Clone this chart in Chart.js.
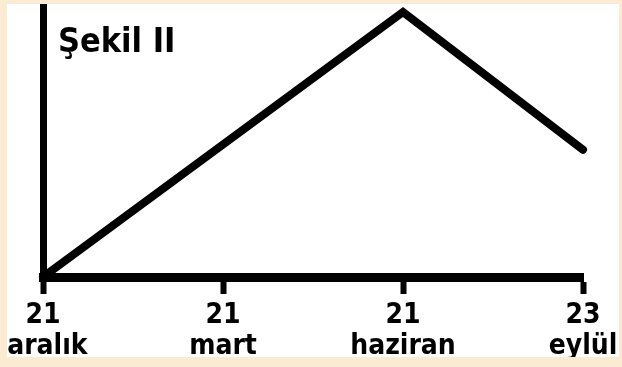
<!DOCTYPE html>
<html lang="tr">
<head>
<meta charset="utf-8">
<title>Şekil II</title>
<script src="https://cdn.jsdelivr.net/npm/chart.js@4.4.1/dist/chart.umd.min.js"></script>
<style>
  html, body { margin: 0; padding: 0; }
  body { width: 622px; height: 367px; background: #fbebd2; position: relative; overflow: hidden; }
  #panel { position: absolute; left: 7px; top: 4px; width: 612px; height: 353px; background: #fff; overflow: hidden; }
  #chart { display: block; }
</style>
</head>
<body>
<div id="panel">
  <canvas id="chart" width="612" height="353"></canvas>
</div>
<script>
// tarih etiketleri (gün / ay) ve güneşin öğle yüksekliği (göreli)
// (ilk ay adındaki boşluk, etiketin panel kenarına taşmasını engeller)
const dates = [['21', '\u00a0aralık'], ['21', 'mart'], ['21', 'haziran'], ['23', 'eylül']];
const sunHeight = [0, 50, 100, 48];
const titleText = 'Şekil II';

const fontFamily = "'DejaVu Sans Condensed', 'DejaVu Sans', sans-serif";

// figure caption in the upper-left corner of the plot
const captionPlugin = {
    id: 'caption',
    afterDraw(chart) {
        const { ctx, chartArea } = chart;
        ctx.save();
        ctx.fillStyle = '#000';
        ctx.font = `bold 34px ${fontFamily}`;
        ctx.textAlign = 'left';
        ctx.textBaseline = 'alphabetic';
        ctx.fillText(titleText, chartArea.left + 15, chartArea.top + 48);
        ctx.restore();
    }
};

new Chart(document.getElementById('chart'), {
    type: 'line',
    data: {
        labels: dates,
        datasets: [{
            data: sunHeight,
            borderColor: '#000',
            borderWidth: 8,
            borderCapStyle: 'round',
            borderJoinStyle: 'miter',
            tension: 0,
            pointRadius: 0,
            pointHoverRadius: 0,
            fill: false,
            clip: false
        }]
    },
    options: {
        responsive: false,
        animation: false,
        devicePixelRatio: 1,
        layout: { padding: { left: 0, right: 36, top: 0, bottom: 0 } },
        plugins: {
            legend: { display: false },
            tooltip: { enabled: false }
        },
        scales: {
            x: {
                type: 'category',
                offset: false,
                grid: {
                    display: true,
                    drawOnChartArea: false,
                    drawTicks: true,
                    tickLength: 17,
                    tickWidth: 6,
                    tickColor: '#000'
                },
                border: { display: true, color: '#000', width: 9 },
                ticks: {
                    color: '#000',
                    padding: 7,
                    maxRotation: 0,
                    autoSkip: false,
                    font: { family: fontFamily, size: 28, weight: 'bold', lineHeight: 1.08 }
                },
                afterFit(scale) {
                    scale.height = 80;
                    scale.paddingLeft = 0;
                    scale.paddingRight = 0;
                }
            },
            y: {
                min: 0,
                max: 103,
                grid: { display: false },
                ticks: { display: false },
                border: { display: true, color: '#000', width: 7 },
                afterFit(scale) {
                    scale.width = 36;
                }
            }
        }
    },
    plugins: [captionPlugin]
});
</script>
</body>
</html>
